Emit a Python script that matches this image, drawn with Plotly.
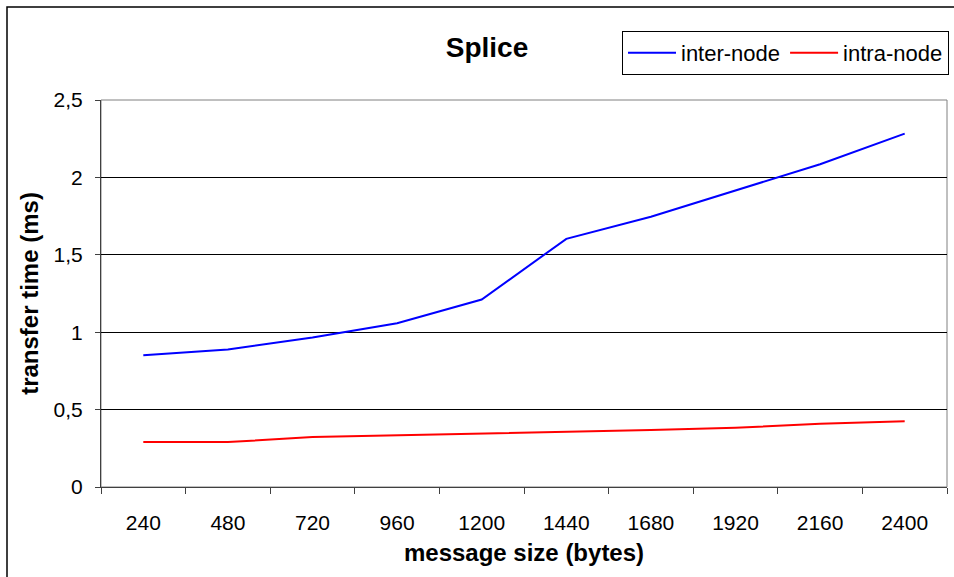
import plotly.graph_objects as go

categories = ["240", "480", "720", "960", "1200", "1440", "1680", "1920", "2160", "2400"]
inter_node = [0.851, 0.888, 0.966, 1.058, 1.211, 1.603, 1.746, 1.915, 2.085, 2.283]
intra_node = [0.290, 0.290, 0.323, 0.334, 0.345, 0.355, 0.368, 0.382, 0.408, 0.424]
y_ticks = [0, 0.5, 1, 1.5, 2, 2.5]

FONT = "Liberation Sans, Arial, sans-serif"

fig = go.Figure()
fig.add_trace(go.Scatter(x=categories, y=inter_node, mode="lines", name="inter-node",
                         line=dict(color="#0000FF", width=2)))
fig.add_trace(go.Scatter(x=categories, y=intra_node, mode="lines", name="intra-node",
                         line=dict(color="#FF0000", width=2)))

W, H = 954, 577
L, R, T, B = 101, 7, 100, 90
pw, ph = W - L - R, H - T - B

def px(xp):
    return (xp - L) / pw

def py(yp):
    return (H - B - yp) / ph

fig.update_layout(
    width=W, height=H,
    margin=dict(l=L, r=R, t=T, b=B, autoexpand=False),
    paper_bgcolor="white", plot_bgcolor="white",
    separators=",.",
    font=dict(family=FONT, size=21, color="black"),
    title=dict(text="<b>Splice</b>", font=dict(size=28, family=FONT, color="black"),
               xref="paper", x=px(487), xanchor="center",
               yref="container", y=1 - 47 / H, yanchor="middle"),
    showlegend=True,
    legend=dict(orientation="h", x=px(622), xanchor="left", y=py(31), yanchor="top",
                bordercolor="black", borderwidth=1, bgcolor="white", itemwidth=48,
                font=dict(size=22, family=FONT, color="black")),
    xaxis=dict(type="category", tickson="boundaries", ticks="outside", ticklen=6,
               tickcolor="#404040", showgrid=False, showline=True, linecolor="#404040",
               linewidth=1, tickfont=dict(size=21), ticklabelstandoff=17,
               title=dict(text="<b>message size (bytes)</b>", font=dict(size=24, family=FONT),
                          standoff=10),
               range=[-0.5, 9.5]),
    yaxis=dict(range=[0, 2.5], tickvals=y_ticks, ticks="outside", ticklen=5,
               tickcolor="#404040", showgrid=True, gridcolor="#000000", gridwidth=1,
               showline=True, linecolor="#404040", linewidth=1, zeroline=False,
               tickfont=dict(size=21), ticklabelstandoff=8,
               title=dict(text="<b>transfer time (ms)</b>", font=dict(size=24, family=FONT),
                          standoff=8)),
)

# plot-area border (gray)
fig.add_shape(type="rect", xref="paper", yref="paper", x0=0, x1=1, y0=0, y1=1,
              line=dict(color="#808080", width=1), layer="below")
# chart-area border
fig.add_shape(type="rect", xref="paper", yref="paper",
              x0=px(7), x1=px(W + 20), y0=py(H + 20), y1=py(7),
              line=dict(color="black", width=1.5), layer="below")

fig.write_html("out.html")
